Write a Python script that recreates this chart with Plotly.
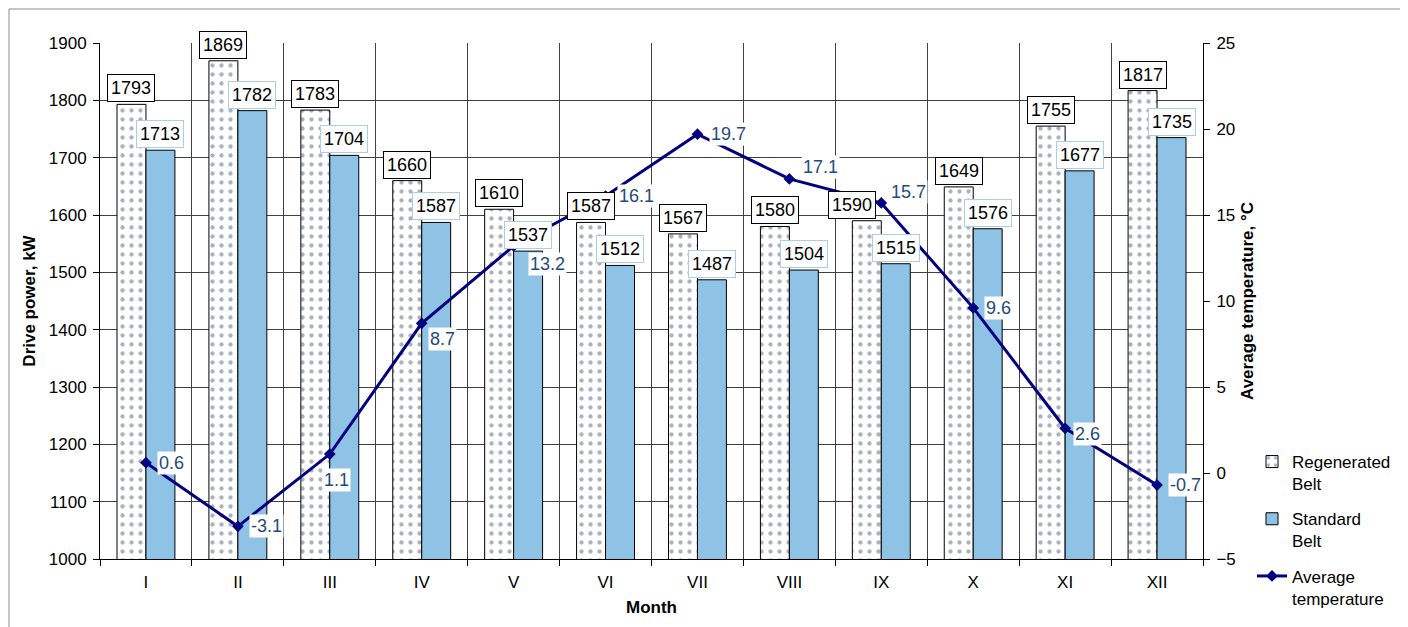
import plotly.graph_objects as go

months = ["I", "II", "III", "IV", "V", "VI", "VII", "VIII", "IX", "X", "XI", "XII"]
regenerated = [1793, 1869, 1783, 1660, 1610, 1587, 1567, 1580, 1590, 1649, 1755, 1817]
standard = [1713, 1782, 1704, 1587, 1537, 1512, 1487, 1504, 1515, 1576, 1677, 1735]
temperature = [0.6, -3.1, 1.1, 8.7, 13.2, 16.1, 19.7, 17.1, 15.7, 9.6, 2.6, -0.7]

# label nudges (pixels), style only
regen_dx = [0, 0, 0, 0, 0, 0, 0, 0, -15, 0, 0, 0]
temp_dx = [11, 11, -8, 6, 14, 11, 12, 12, 8, 11, 8, 11]
temp_dy = [0, 0, -26, -16, -18, 0, 0, 12, 11, 0, -6, 0]

FONT = "Liberation Sans, Arial, sans-serif"
BLUE = "#8EC3E6"
NAVY = "#000080"

# the page body adds an 8px offset; work in reference-screen pixels
OFF = 8
SW, SH = 1408, 627
L, R, T, B = 100, 1203, 43, 559          # plot area in screen pixels
W, H = SW - OFF, SH - OFF
ml, mt = L - OFF, T - OFF
mr, mb = W - (R - OFF), H - (B - OFF)
pw, ph = R - L, B - T


def px(x):
    return (x - L) / pw


def py(y):
    return (B - y) / ph


fig = go.Figure()
fig.add_bar(
    x=months, y=regenerated, name="Regenerated<br>Belt", legendgroup="a",
    marker=dict(color="white", line=dict(color="black", width=1),
                pattern=dict(shape=".", fgcolor="#56657f", bgcolor="white", size=9, solidity=0.18)),
)
fig.add_bar(
    x=months, y=standard, name="Standard<br>Belt", legendgroup="b",
    marker=dict(color=BLUE, line=dict(color="black", width=1)),
)
fig.add_scatter(
    x=months, y=temperature, yaxis="y2", name="Average<br>temperature", legendgroup="c",
    mode="lines+markers", line=dict(color=NAVY, width=3),
    marker=dict(symbol="diamond", size=9, color=NAVY),
)

half = (1 - 0.37) / 4
annotations = []
for i, (r, s) in enumerate(zip(regenerated, standard)):
    annotations.append(dict(
        x=i - half, y=r, xref="x", yref="y", text=str(r), showarrow=False,
        xanchor="center", yanchor="bottom", yshift=2, xshift=regen_dx[i],
        font=dict(family=FONT, size=18, color="black"),
        bgcolor="white", bordercolor="black", borderwidth=1, borderpad=3,
    ))
    annotations.append(dict(
        x=i + half, y=s, xref="x", yref="y", text=str(s), showarrow=False,
        xanchor="center", yanchor="bottom", yshift=2,
        font=dict(family=FONT, size=18, color="black"),
        bgcolor="white", bordercolor="#A9CDEB", borderwidth=1, borderpad=3,
    ))
for i, t in enumerate(temperature):
    annotations.append(dict(
        x=i, y=t, xref="x", yref="y2", text=str(t), showarrow=False,
        xanchor="left", yanchor="middle", xshift=temp_dx[i], yshift=temp_dy[i],
        font=dict(family=FONT, size=18, color="#1F497D"),
        bgcolor="white", borderpad=1,
    ))

fig.update_layout(
    width=W, height=H,
    margin=dict(l=ml, r=mr, t=mt, b=mb, autoexpand=False),
    paper_bgcolor="white", plot_bgcolor="white",
    font=dict(family=FONT, size=17, color="black"),
    barmode="group", bargap=0.37, bargroupgap=0,
    showlegend=True,
    legend=dict(x=px(1252), y=py(444), xanchor="left", yanchor="top",
                font=dict(family=FONT, size=17), valign="top",
                tracegroupgap=10, bgcolor="rgba(0,0,0,0)"),
    xaxis=dict(
        type="category", range=[-0.5, 11.5], tickson="boundaries",
        ticks="outside", ticklen=6, ticklabelstandoff=8,
        tickcolor="black", showline=True, linecolor="black", linewidth=1,
        showgrid=True, gridcolor="#404040", gridwidth=1,
        tickfont=dict(family=FONT, size=17),
        title=dict(text="<b>Month</b>", font=dict(family=FONT, size=17), standoff=9),
    ),
    yaxis=dict(
        range=[1000, 1900], dtick=100, ticks="outside", ticklen=6, tickcolor="black",
        ticklabelstandoff=3,
        showline=True, linecolor="black", linewidth=1,
        showgrid=True, gridcolor="#404040", gridwidth=1, zeroline=False,
        tickfont=dict(family=FONT, size=17),
        title=dict(text="<b>Drive power, kW</b>", font=dict(family=FONT, size=17), standoff=8),
    ),
    yaxis2=dict(
        range=[-5, 25], dtick=5, overlaying="y", side="right",
        ticks="outside", ticklen=6, tickcolor="black", ticklabelstandoff=3,
        showline=True, linecolor="black", linewidth=1, showgrid=False, zeroline=False,
        tickfont=dict(family=FONT, size=17),
        title=dict(text="<b>Average temperature, °C</b>", font=dict(family=FONT, size=17), standoff=6),
    ),
    annotations=annotations,
    shapes=[dict(type="rect", xref="paper", yref="paper",
                 x0=px(9), x1=px(1404), y0=py(660), y1=py(9),
                 line=dict(color="#8c8c8c", width=1), fillcolor="rgba(0,0,0,0)", layer="below")],
)

fig.write_html("out.html")
